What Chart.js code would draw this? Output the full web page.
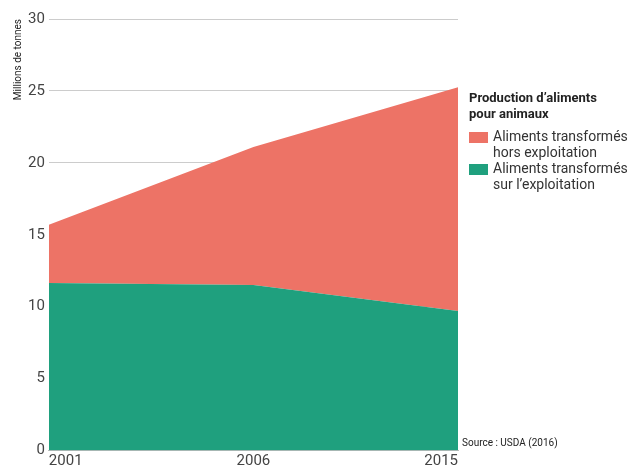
<!DOCTYPE html>
<html><head><meta charset="utf-8">
<script src="https://cdn.jsdelivr.net/npm/chart.js@4"></script>
<style>
html,body{margin:0;padding:0;background:#fff;}
#wrap{position:relative;width:629px;height:471px;font-family:Roboto,"Liberation Sans",sans-serif;}
#c{position:absolute;left:0;top:0;}
#legend{position:absolute;left:469px;top:90px;width:160px;color:#333;}
#legend .t{font-weight:bold;font-size:13px;line-height:16px;margin-bottom:6px;color:#222;}
#legend .it{position:relative;padding-left:24px;font-size:14px;line-height:16px;color:#333;margin-bottom:0px;}
#legend .sw{position:absolute;left:0;top:4px;width:19px;height:11px;}
#src{position:absolute;left:462px;top:437px;font-size:10px;color:#222;}
</style></head><body>
<div id="wrap">
<canvas id="c" width="629" height="471"></canvas>
<div id="legend"></div>
<div id="src">Source : USDA (2016)</div>
</div>
<script>
const years = ["2001", "2006", "2015"];
const onFarm = [11.65, 11.5, 9.7];        // Aliments transformés sur l'exploitation
const offFarm = [4.05, 9.6, 15.55];       // Aliments transformés hors exploitation
const seriesNames = ["Aliments transformés hors exploitation", "Aliments transformés sur l'exploitation"];
const legendTitle = "Production d’aliments pour animaux";
const yTitle = "Millions de tonnes";
const sourceText = "Source : USDA (2016)";
const colors = {off: "#ED7366", on: "#1FA07E"};

document.getElementById('src').textContent = sourceText;
const lg = document.getElementById('legend');
lg.innerHTML = '<div class="t">Production d’aliments<br>pour animaux</div>' +
  '<div class="it"><span class="sw" style="background:'+colors.off+'"></span>Aliments transformés<br>hors exploitation</div>' +
  '<div class="it"><span class="sw" style="background:'+colors.on+'"></span>Aliments transformés<br>sur l’exploitation</div>';

new Chart(document.getElementById('c'), {
  type: 'line',
  data: {
    labels: years,
    datasets: [
      {label: seriesNames[1], data: onFarm, backgroundColor: colors.on, borderWidth: 0, pointRadius: 0, fill: 'origin', tension: 0},
      {label: seriesNames[0], data: offFarm, backgroundColor: colors.off, borderWidth: 0, pointRadius: 0, fill: '-1', tension: 0}
    ]
  },
  options: {
    responsive: false,
    animation: false,
    layout: {padding: {left: 12, right: 171, top: 19, bottom: 0}},
    plugins: {legend: {display: false}, tooltip: {enabled: false}},
    scales: {
      x: {
        offset: false,
        grid: {display: false, drawTicks: false},
        border: {display: true, color: '#bbb', width: 1},
        ticks: {color: '#444', font: {family: 'Roboto', size: 15, lineHeight: 1.1}, align: 'inner', padding: 2, maxRotation: 0}
      },
      y: {
        stacked: true,
        min: 0, max: 30,
        grid: {color: '#cccccc', drawTicks: false},
        border: {display: false},
        ticks: {stepSize: 5, color: '#444', font: {family: 'Roboto', size: 15}, padding: 4},
        title: {display: true, text: yTitle, align: 'end', color: '#222', font: {family: 'Roboto', size: 10}, padding: {top: 0, bottom: 0}}
      }
    }
  }
});
</script>
</body></html>
